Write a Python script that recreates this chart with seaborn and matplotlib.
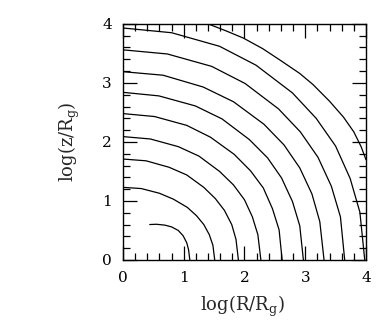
import pandas as pd
import seaborn as sns
import matplotlib
matplotlib.use("Agg")
import matplotlib.pyplot as plt
from matplotlib.ticker import MultipleLocator

# ---------- DATA ----------

c1_x = [0.44, 0.55, 0.69, 0.80, 0.91, 0.99, 1.05, 1.08, 1.10]
c1_y = [0.60, 0.605, 0.59, 0.56, 0.50, 0.41, 0.29, 0.17, 0.00]

c2_x = [0.00, 0.30, 0.60, 0.83, 1.06, 1.21, 1.33, 1.42, 1.48, 1.51]
c2_y = [1.23, 1.21, 1.13, 1.03, 0.89, 0.75, 0.60, 0.43, 0.25, 0.00]

c3_x = [0.00, 0.38, 0.76, 1.05, 1.33, 1.52, 1.67, 1.79, 1.86, 1.90]
c3_y = [1.71, 1.68, 1.57, 1.44, 1.23, 1.04, 0.84, 0.60, 0.35, 0.00]

c4_x = [0.00, 0.45, 0.91, 1.25, 1.59, 1.82, 2.00, 2.13, 2.22, 2.27]
c4_y = [2.09, 2.05, 1.92, 1.76, 1.50, 1.27, 1.02, 0.73, 0.43, 0.00]

c5_x = [0.00, 0.52, 1.05, 1.44, 1.83, 2.10, 2.31, 2.46, 2.57, 2.62]
c5_y = [2.48, 2.43, 2.28, 2.08, 1.79, 1.51, 1.22, 0.87, 0.51, 0.00]

c6_x = [0.00, 0.59, 1.19, 1.63, 2.08, 2.38, 2.61, 2.79, 2.91, 2.97]
c6_y = [2.84, 2.78, 2.61, 2.39, 2.04, 1.73, 1.39, 0.99, 0.58, 0.00]

c7_x = [0.00, 0.66, 1.32, 1.82, 2.32, 2.65, 2.91, 3.11, 3.24, 3.31]
c7_y = [3.19, 3.13, 2.93, 2.68, 2.30, 1.95, 1.56, 1.12, 0.65, 0.00]

c8_x = [0.00, 0.73, 1.46, 2.01, 2.56, 2.92, 3.21, 3.43, 3.58, 3.65]
c8_y = [3.56, 3.49, 3.28, 2.99, 2.56, 2.17, 1.74, 1.25, 0.73, 0.00]

c9_x = [0.00, 0.80, 1.59, 2.19, 2.79, 3.18, 3.50, 3.74, 3.90, 3.98]
c9_y = [3.93, 3.85, 3.62, 3.30, 2.83, 2.40, 1.93, 1.38, 0.81, 0.00]

c10_x = [1.40, 1.70, 1.98, 2.30, 2.58, 2.91, 3.13, 3.40, 3.63, 3.80, 3.92, 4.00]
c10_y = [4.00, 3.88, 3.76, 3.58, 3.39, 3.16, 2.97, 2.69, 2.42, 2.17, 1.92, 1.70]

curves = [
    (c1_x, c1_y), (c2_x, c2_y), (c3_x, c3_y), (c4_x, c4_y), (c5_x, c5_y),
    (c6_x, c6_y), (c7_x, c7_y), (c8_x, c8_y), (c9_x, c9_y), (c10_x, c10_y),
]

tick_vals = [0, 1, 2, 3, 4]

rows = []
for i, (xs, ys) in enumerate(curves):
    for j, (xv, yv) in enumerate(zip(xs, ys)):
        rows.append({"curve": i, "order": j, "logR": xv, "logz": yv})
df = pd.DataFrame(rows)

# ---------- PLOT ----------

sns.set_style("ticks")
plt.rcParams["font.family"] = ["DejaVu Serif", "DejaVu Sans"]
plt.rcParams["mathtext.fontset"] = "dejavuserif"

fig = plt.figure(figsize=(3.82, 3.27), dpi=100)
ax = fig.add_axes([0.322, 0.205, 0.636, 0.722])

sns.lineplot(
    data=df,
    x="logR",
    y="logz",
    units="curve",
    estimator=None,
    sort=False,
    color="black",
    linewidth=0.9,
    ax=ax
)

ax.set_xlim(0, 4)
ax.set_ylim(0, 4)
ax.set_xticks(tick_vals)
ax.set_yticks(tick_vals)
ax.xaxis.set_minor_locator(MultipleLocator(0.2))
ax.yaxis.set_minor_locator(MultipleLocator(0.2))

ax.tick_params(
    which="both", direction="in",
    top=True, right=True, colors="black"
)
ax.tick_params(which="major", length=10, width=0.9, pad=8, labelsize=11)
ax.tick_params(which="minor", length=5, width=0.9)

for s in ax.spines.values():
    s.set_linewidth(1.0)
    s.set_color("black")

ax.set_xlabel(r"log(R/R$_\mathregular{g}$)", fontsize=13)
ax.set_ylabel(r"log(z/R$_\mathregular{g}$)", fontsize=13)
ax.xaxis.set_label_coords(0.49, -0.145)
ax.yaxis.set_label_coords(-0.17, 0.5)

fig.savefig("out.png", dpi=100)
